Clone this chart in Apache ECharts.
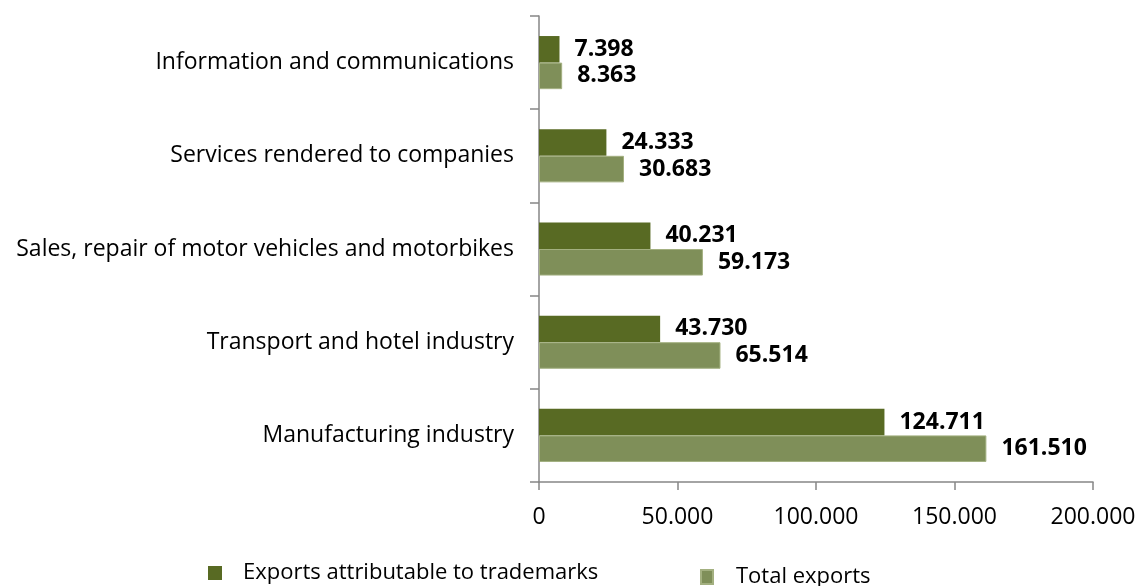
<!DOCTYPE html>
<html>
<head>
<meta charset="utf-8">
<title>Exports by sector</title>
<script src="https://cdn.jsdelivr.net/npm/echarts@6/dist/echarts.min.js"></script>
<style>
  html, body { margin: 0; padding: 0; background: #ffffff; }
  #chart { width: 1139px; height: 586px; }
</style>
</head>
<body>
<div id="chart"></div>
<script>
// Sectors, listed top to bottom
const categories = [
  'Information and communications',
  'Services rendered to companies',
  'Sales, repair of motor vehicles and motorbikes',
  'Transport and hotel industry',
  'Manufacturing industry'
];
const trademarkExports = [7398, 24333, 40231, 43730, 124711];
const totalExports = [8363, 30683, 59173, 65514, 161510];
const xTicks = [0, 50000, 100000, 150000, 200000];
const seriesNames = ['Exports attributable to trademarks', 'Total exports'];

const DARK = '#586A23';
const LIGHT = '#7F8F59';
const FONT = '"Open Sans", "Noto Sans", sans-serif';

// thousands separated by dots
function fmt(v) {
  return String(Math.round(v)).replace(/\B(?=(\d{3})+(?!\d))/g, '.');
}

const chart = echarts.init(document.getElementById('chart'), null, { renderer: 'canvas' });

const valueLabel = {
  show: true,
  position: 'right',
  distance: 15,
  color: '#000',
  fontFamily: FONT,
  fontWeight: 'bold',
  fontSize: 23,
  formatter: p => fmt(p.value)
};

const legendText = { fontFamily: FONT, fontSize: 22, lineHeight: 22, color: '#000' };

chart.setOption({
  animation: false,
  backgroundColor: '#ffffff',
  textStyle: { fontFamily: FONT },
  grid: { left: 539, right: 46, top: 16, bottom: 104, containLabel: false },
  legend: [
    {
      data: [seriesNames[0]],
      left: 203, top: 557,
      itemWidth: 14, itemHeight: 14,
      icon: 'rect',
      textStyle: Object.assign({ padding: [0, 0, 0, 16] }, legendText)
    },
    {
      data: [seriesNames[1]],
      left: 695, top: 561,
      itemWidth: 12, itemHeight: 14,
      icon: 'rect',
      textStyle: Object.assign({ padding: [0, 0, 0, 18] }, legendText)
    }
  ],
  xAxis: {
    type: 'value',
    min: xTicks[0],
    max: xTicks[xTicks.length - 1],
    interval: xTicks[1] - xTicks[0],
    splitLine: { show: false },
    axisLine: { show: true, lineStyle: { color: '#868686', width: 1.5 } },
    axisTick: { show: true, length: 8, lineStyle: { color: '#868686', width: 1.5 } },
    axisLabel: {
      margin: 24,
      color: '#000',
      fontFamily: FONT,
      fontSize: 23,
      formatter: v => fmt(v)
    }
  },
  yAxis: {
    type: 'category',
    inverse: true,
    data: categories,
    axisLine: { show: true, lineStyle: { color: '#868686', width: 1.5 } },
    axisTick: { show: true, length: 9, alignWithLabel: false, lineStyle: { color: '#868686', width: 1.5 } },
    axisLabel: {
      margin: 25,
      color: '#000',
      fontFamily: FONT,
      fontSize: 23
    }
  },
  series: [
    {
      name: seriesNames[0],
      type: 'bar',
      data: trademarkExports,
      barGap: '0%',
      barCategoryGap: '43%',
      itemStyle: { color: DARK },
      label: valueLabel
    },
    {
      name: seriesNames[1],
      type: 'bar',
      data: totalExports,
      barGap: '0%',
      barCategoryGap: '43%',
      itemStyle: { color: LIGHT, borderColor: '#A3B080', borderWidth: 1 },
      label: valueLabel
    }
  ]
});
</script>
</body>
</html>
